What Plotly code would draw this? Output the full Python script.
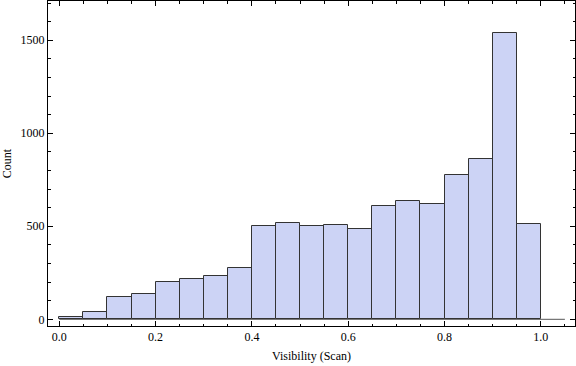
import plotly.graph_objects as go

bin_edges = [0.00, 0.05, 0.10, 0.15, 0.20, 0.25, 0.30, 0.35, 0.40, 0.45, 0.50,
             0.55, 0.60, 0.65, 0.70, 0.75, 0.80, 0.85, 0.90, 0.95, 1.00]
counts = [15, 37, 118, 134, 199, 215, 231, 274, 500, 516, 500,
          505, 484, 607, 634, 618, 774, 860, 1537, 511]

x_ticks = [0.0, 0.2, 0.4, 0.6, 0.8, 1.0]
y_ticks = [0, 500, 1000, 1500]

centers = [(a + b) / 2 for a, b in zip(bin_edges[:-1], bin_edges[1:])]
widths = [b - a for a, b in zip(bin_edges[:-1], bin_edges[1:])]

FONT = "Liberation Serif"
fig = go.Figure()
fig.add_trace(go.Bar(
    x=centers, y=counts, width=widths,
    marker=dict(color="#CCD3F5", line=dict(color="#333333", width=1)),
    hoverinfo="skip",
))

# horizontal axis line at y=0 (Mathematica-style axis through plot range)
fig.add_shape(type="line", xref="x", yref="y", x0=0, x1=1.05, y0=0, y1=0,
              line=dict(color="#555555", width=1), layer="below")

fig.update_layout(
    width=576, height=366,
    margin=dict(l=48, r=1, t=1, b=40, autoexpand=False),
    paper_bgcolor="white", plot_bgcolor="white",
    showlegend=False, bargap=0,
    font=dict(family=FONT, size=12, color="black"),
)
fig.update_xaxes(
    range=[-0.0235, 1.071],
    tickvals=x_ticks, ticktext=[f"{v:.1f}" for v in x_ticks],
    ticks="inside", ticklen=5, tickwidth=1, tickcolor="black",
    minor=dict(dtick=0.05, tick0=0, ticks="inside", ticklen=2.5, tickcolor="black"),
    showline=True, linecolor="black", linewidth=1, mirror="ticks",
    showgrid=False, zeroline=False, automargin=False,
    title=dict(text="Visibility (Scan)", standoff=8, font=dict(family=FONT, size=12)),
    tickfont=dict(family=FONT, size=12),
)
fig.update_yaxes(
    range=[-36, 1711],
    tickvals=y_ticks, ticktext=[str(v) for v in y_ticks],
    ticks="inside", ticklen=5, tickwidth=1, tickcolor="black",
    minor=dict(dtick=100, tick0=0, ticks="inside", ticklen=2.5, tickcolor="black"),
    showline=True, linecolor="black", linewidth=1, mirror="ticks",
    showgrid=False, zeroline=False, automargin=False,
    title=dict(text="Count", standoff=6, font=dict(family=FONT, size=12)),
    tickfont=dict(family=FONT, size=12),
)

fig.write_html("out.html", config={"displayModeBar": False},
               post_script="document.body.style.margin='0';document.body.style.overflow='hidden';")
